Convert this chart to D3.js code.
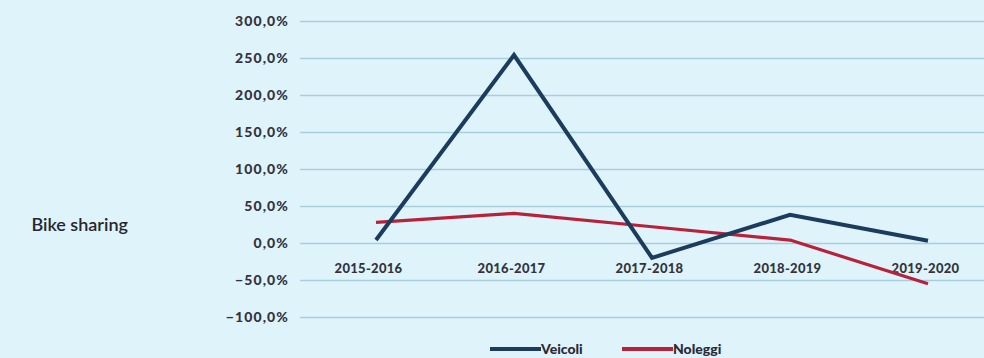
<!DOCTYPE html>
<html><head><meta charset="utf-8">
<script src="https://cdn.jsdelivr.net/npm/d3@7"></script>
<style>
html,body{margin:0;padding:0;background:#dff3fb;}
svg{display:block;}
text{font-family:"Lato","Open Sans",sans-serif;}
</style></head>
<body><svg id="c" width="984" height="358"></svg>
<script>
const categories = ["2015-2016","2016-2017","2017-2018","2018-2019","2019-2020"];
const veicoli = [4, 254, -20, 38, 3];
const noleggi = [28, 40, 22, 4, -55];
const yTicks = [300, 250, 200, 150, 100, 50, 0, -50, -100];
const seriesNames = ["Veicoli", "Noleggi"];
const rowLabel = "Bike sharing";

const svg = d3.select("#c");
svg.append("rect").attr("width",984).attr("height",358).attr("fill","#dff3fb");

const y = d3.scaleLinear().domain([-100,300]).range([317,21]);
const x = d3.scalePoint().domain(categories).range([376,928]);
const fmt = v => d3.format(".1f")(v).replace(".", ",") + "%";

const yAxis = d3.axisLeft(y).tickValues(yTicks).tickSize(-684).tickFormat(fmt).tickPadding(11);
const gy = svg.append("g").attr("transform","translate(300,0)").call(yAxis);
gy.select(".domain").remove();
gy.selectAll(".tick line").attr("stroke","#a6cedc").attr("stroke-width",1.6);
gy.selectAll(".tick text").attr("fill","#333340").attr("font-size",14).attr("font-weight",900).attr("letter-spacing","1.1px");

const xAxis = d3.axisBottom(x).tickSize(0).tickPadding(0);
const gx = svg.append("g").attr("transform","translate(0,268)").call(xAxis);
gx.select(".domain").remove();
gx.selectAll(".tick text").attr("fill","#333340").attr("font-size",13).attr("font-weight",900).attr("letter-spacing","0.3px").attr("dy","0.35em").attr("dx", (d,i)=> i===0 ? "-8" : "-3");

const line = d3.line().x((d,i)=>x(categories[i])).y(d=>y(d));
svg.append("path").datum(noleggi).attr("d",line).attr("fill","none").attr("stroke","#b7223a").attr("stroke-width",3.2).attr("stroke-linejoin","round");
svg.append("path").datum(veicoli).attr("d",line).attr("fill","none").attr("stroke","#1b3c5c").attr("stroke-width",4).attr("stroke-linejoin","miter");

svg.append("text").attr("x",128).attr("y",231).attr("text-anchor","end").attr("font-size",18).attr("font-weight",600).attr("fill","#26262e").attr("font-family","Open Sans, sans-serif").text(rowLabel);

const legColors = ["#1b3c5c","#b7223a"];
const legX = [490, 622];
seriesNames.forEach((n,i)=>{
  const g = svg.append("g").attr("transform",`translate(${legX[i]},349)`);
  g.append("line").attr("x1",0).attr("x2",51).attr("y1",0).attr("y2",0).attr("stroke",legColors[i]).attr("stroke-width",4);
  g.append("text").attr("x",51).attr("y",5).attr("font-size",14).attr("font-weight",900).attr("fill","#2a2a36").text(n);
});
</script></body></html>
